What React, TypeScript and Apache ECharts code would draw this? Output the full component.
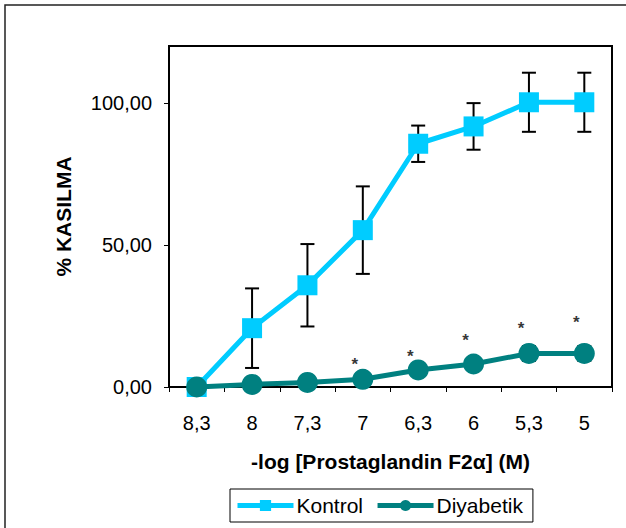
import React, { useEffect, useRef } from "react";
import * as echarts from "echarts";

const categories = ["8,3", "8", "7,3", "7", "6,3", "6", "5,3", "5"];
const kontrol = [0, 20.7, 35.8, 55.2, 85.6, 91.7, 100.2, 100.2];
const kontrolErr = [0, 14, 14.5, 15.4, 6.4, 8.2, 10.4, 10.4];
const diyabetik = [0, 0.9, 1.6, 2.7, 6.0, 8.1, 11.8, 11.8];
const diyabetikErr = [0, 0.5, 0.5, 1, 1.5, 1.5, 2.6, 2.6];
const stars: (number | null)[] = [null, null, null, 9.2, 12.0, 17.7, 22.1, 24.1];
const yTicks = [0, 50, 100];

const FONT = "'Liberation Sans', Arial, sans-serif";

function errData(vals: number[], errs: number[]) {
  return vals.map((v, i) => [i, v - errs[i], v + errs[i]]);
}

const renderErr = (params: any, api: any) => {
  const x = api.value(0);
  const lo = api.coord([x, api.value(1)]);
  const hi = api.coord([x, api.value(2)]);
  const hw = 7;
  const style = { stroke: "#000", lineWidth: 2 };
  return {
    type: "group",
    children: [
      { type: "line", shape: { x1: lo[0], y1: lo[1], x2: hi[0], y2: hi[1] }, style },
      { type: "line", shape: { x1: lo[0] - hw, y1: lo[1], x2: lo[0] + hw, y2: lo[1] }, style },
      { type: "line", shape: { x1: hi[0] - hw, y1: hi[1], x2: hi[0] + hw, y2: hi[1] }, style },
    ],
  };
};

export default function App() {
  const ref = useRef<HTMLDivElement>(null);
  useEffect(() => {
    if (!ref.current) return;
    const chart = echarts.init(ref.current, null, { renderer: "svg" });
    const starData = stars
      .map((v, i) => (v == null ? null : [i, v]))
      .filter((d) => d != null);
    chart.setOption({
      animation: false,
      backgroundColor: "#fff",
      textStyle: { fontFamily: FONT },
      graphic: [
        {
          type: "rect",
          shape: { x: 5, y: 5, width: 660, height: 560 },
          style: { fill: "none", stroke: "#222", lineWidth: 1.5 },
          silent: true,
        },
      ],
      grid: {
        left: 169,
        right: 14,
        top: 46,
        bottom: 141,
        show: true,
        borderColor: "#000",
        borderWidth: 2,
        backgroundColor: "transparent",
      },
      legend: {
        data: [
          { name: "Kontrol", lineStyle: { width: 5 } },
          { name: "Diyabetik", lineStyle: { width: 5 } },
        ],
        left: 230,
        top: 489,
        orient: "horizontal",
        itemWidth: 56,
        itemHeight: 14,
        itemGap: 12,
        padding: [6, 10, 6, 5],
        borderColor: "#000",
        borderWidth: 1,
        lineStyle: { width: 5 },
        textStyle: { fontSize: 21, color: "#000", fontFamily: FONT, padding: [0, 0, 0, -2] },
      },
      xAxis: {
        type: "category",
        data: categories,
        boundaryGap: true,
        name: "-log [Prostaglandin F2\u03b1] (M)",
        nameLocation: "middle",
        nameGap: 64,
        nameTextStyle: { fontSize: 21, fontWeight: "bold", color: "#000", fontFamily: FONT },
        axisLine: { show: true, lineStyle: { color: "#000", width: 2 } },
        axisTick: { show: true, length: 5, lineStyle: { color: "#000", width: 1 } },
        axisLabel: { fontSize: 20, color: "#000", margin: 26, fontFamily: FONT },
        splitLine: { show: false },
      },
      yAxis: {
        type: "value",
        min: 0,
        max: 120,
        interval: 50,
        name: "% KASILMA",
        nameLocation: "middle",
        nameGap: 95,
        nameRotate: 90,
        nameTextStyle: { fontSize: 21, fontWeight: "bold", color: "#000", fontFamily: FONT },
        axisLine: { show: true, lineStyle: { color: "#000", width: 2 } },
        axisTick: { show: true, length: 5, customValues: yTicks, lineStyle: { color: "#000", width: 1 } },
        axisLabel: {
          fontSize: 20,
          color: "#000",
          margin: 17,
          fontFamily: FONT,
          customValues: yTicks,
          formatter: (v: number) => v.toFixed(2).replace(".", ","),
        },
        splitLine: { show: false },
      },
      series: [
        {
          name: "errK",
          type: "custom",
          renderItem: renderErr,
          data: errData(kontrol, kontrolErr),
          encode: { x: 0, y: [1, 2] },
          z: 1,
          silent: true,
        },
        {
          name: "errD",
          type: "custom",
          renderItem: renderErr,
          data: errData(diyabetik, diyabetikErr),
          encode: { x: 0, y: [1, 2] },
          z: 1,
          silent: true,
        },
        {
          name: "Kontrol",
          type: "line",
          data: kontrol,
          symbol: "rect",
          symbolSize: 20,
          showAllSymbol: true,
          itemStyle: { color: "#00CCFF" },
          lineStyle: { color: "#00CCFF", width: 5 },
          z: 3,
        },
        {
          name: "Diyabetik",
          type: "line",
          data: diyabetik,
          symbol: "circle",
          symbolSize: 21,
          showAllSymbol: true,
          itemStyle: { color: "#008080" },
          lineStyle: { color: "#008080", width: 5 },
          z: 4,
        },
        {
          name: "sig",
          type: "scatter",
          data: starData,
          symbolSize: 0,
          silent: true,
          label: {
            show: true,
            position: "inside",
            formatter: "*",
            fontSize: 17,
            fontWeight: "bold",
            color: "#000",
            offset: [-8, 4],
          },
          z: 5,
        },
      ],
    });
    return () => chart.dispose();
  }, []);
  return (
    <div
      ref={ref}
      style={{ position: "absolute", left: 0, top: 0, width: 626, height: 528 }}
    />
  );
}
